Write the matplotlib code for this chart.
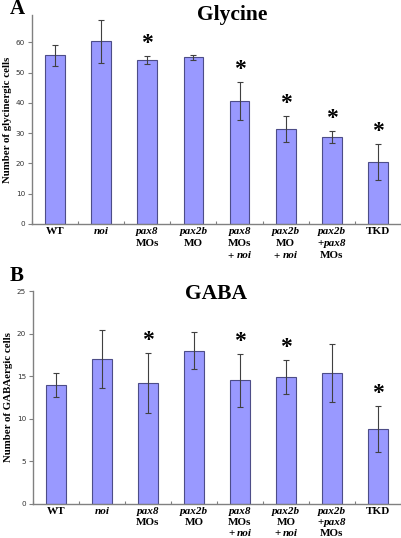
import numpy as np
import matplotlib
matplotlib.use('Agg')
from matplotlib import pyplot as plt

# each label: lines, each line a list of (text, italic)
labels = [
    [[('WT', False)]],
    [[('noi', True)]],
    [[('pax8', True)], [('MOs', False)]],
    [[('pax2b', True)], [('MO', False)]],
    [[('pax8', True)], [('MOs', False)], [('+', False), ('noi', True)]],
    [[('pax2b', True)], [('MO', False)], [('+', False), ('noi', True)]],
    [[('pax2b', True)], [('+', False), ('pax8', True)], [('MOs', False)]],
    [[('TKD', False)]],
]

gly = [55.7, 60.4, 54.2, 55.0, 40.7, 31.4, 28.8, 20.4]
gly_err = [3.4, 7.1, 1.3, 0.7, 6.2, 4.2, 2.0, 6.0]
gly_star = [False, False, True, False, True, True, True, True]

gaba = [14.0, 17.0, 14.2, 18.0, 14.5, 14.9, 15.4, 8.8]
gaba_err = [1.4, 3.4, 3.5, 2.2, 3.1, 2.0, 3.4, 2.7]
gaba_star = [False, False, True, False, True, True, False, True]

fig = plt.figure(figsize=(4.02, 5.38), dpi=100)
renderer = fig.canvas.get_renderer()
serif = 'Liberation Serif'


def xlabels(ax, line_offsets):
    for xi, lines in enumerate(labels):
        for li, pieces in enumerate(lines):
            yoff = -line_offsets[li]
            texts = []
            for s, it in pieces:
                t = ax.annotate(s, xy=(xi, 0), xycoords=('data', 'axes fraction'),
                                xytext=(0, yoff), textcoords='offset pixels',
                                ha='left', va='center', fontsize=8, fontweight='bold',
                                fontstyle='italic' if it else 'normal', family=serif,
                                annotation_clip=False)
                texts.append(t)
            widths = [t.get_window_extent(renderer).width for t in texts]
            gaps = [2.8 if pieces[k + 1][0] == 'noi' else 0.3 for k in range(len(pieces) - 1)]
            total = sum(widths) + sum(gaps)
            pos = -total / 2
            for k, (t, w) in enumerate(zip(texts, widths)):
                t.xyann = (pos, yoff)
                pos += w + (gaps[k] if k < len(gaps) else 0)


def panel(rect, vals, errs, stars, ymax, yticks, ylabel, title, title_xy, letter, letter_xy, offs):
    ax = fig.add_axes(rect)
    x = np.arange(len(vals))
    ax.bar(x, vals, width=0.43, color='#9999ff', edgecolor='#4d4d88', linewidth=0.8, zorder=2)
    ax.errorbar(x, vals, yerr=errs, fmt='none', ecolor='#404040', elinewidth=0.8,
                capsize=2.5, capthick=0.8, zorder=3)
    for xi, v, e, s in zip(x, vals, errs, stars):
        if s:
            ax.text(xi, v + e + ymax * 0.01, '*', ha='center', va='bottom',
                    fontsize=17, fontweight='bold', family=serif)
    ax.set_xlim(-0.5, len(vals) - 0.5)
    ax.set_ylim(0, ymax)
    ax.set_yticks(yticks)
    ax.set_yticklabels([str(t) for t in yticks], fontsize=5.2, color='#333333', family='DejaVu Sans')
    ax.set_xticks(np.arange(len(vals) + 1) - 0.5)
    ax.set_xticklabels([])
    ax.tick_params(axis='x', length=2, color='#808080', direction='in')
    ax.tick_params(axis='y', length=3, color='#808080', width=0.8, pad=2)
    for side in ['top', 'right']:
        ax.spines[side].set_visible(False)
    for side in ['left', 'bottom']:
        ax.spines[side].set_color('#808080')
        ax.spines[side].set_linewidth(1.0)
    ax.set_ylabel(ylabel, fontsize=7.8, fontweight='bold', family=serif, labelpad=3)
    fig.text(title_xy[0], title_xy[1], title, fontsize=15.5, fontweight='bold', family=serif,
             ha='center', va='center')
    fig.text(letter_xy[0], letter_xy[1], letter, fontsize=15, fontweight='bold', family=serif,
             ha='left', va='center')
    xlabels(ax, offs)
    return ax


panel([32 / 402, 1 - 224 / 538, 369 / 402, 209 / 538], gly, gly_err, gly_star, 69,
      [0, 10, 20, 30, 40, 50, 60], 'Number of glycinergic cells', 'Glycine',
      (232 / 402, 1 - 15 / 538), 'A', (10 / 402, 1 - 9 / 538), [7.5, 19.8, 32])
panel([33 / 402, 1 - 504 / 538, 368 / 402, 213 / 538], gaba, gaba_err, gaba_star, 25,
      [0, 5, 10, 15, 20, 25], 'Number of GABAergic cells', 'GABA',
      (216 / 402, 1 - 294 / 538), 'B', (10 / 402, 1 - 276 / 538), [7, 18.3, 29.6])

fig.savefig('out.png', dpi=100)
